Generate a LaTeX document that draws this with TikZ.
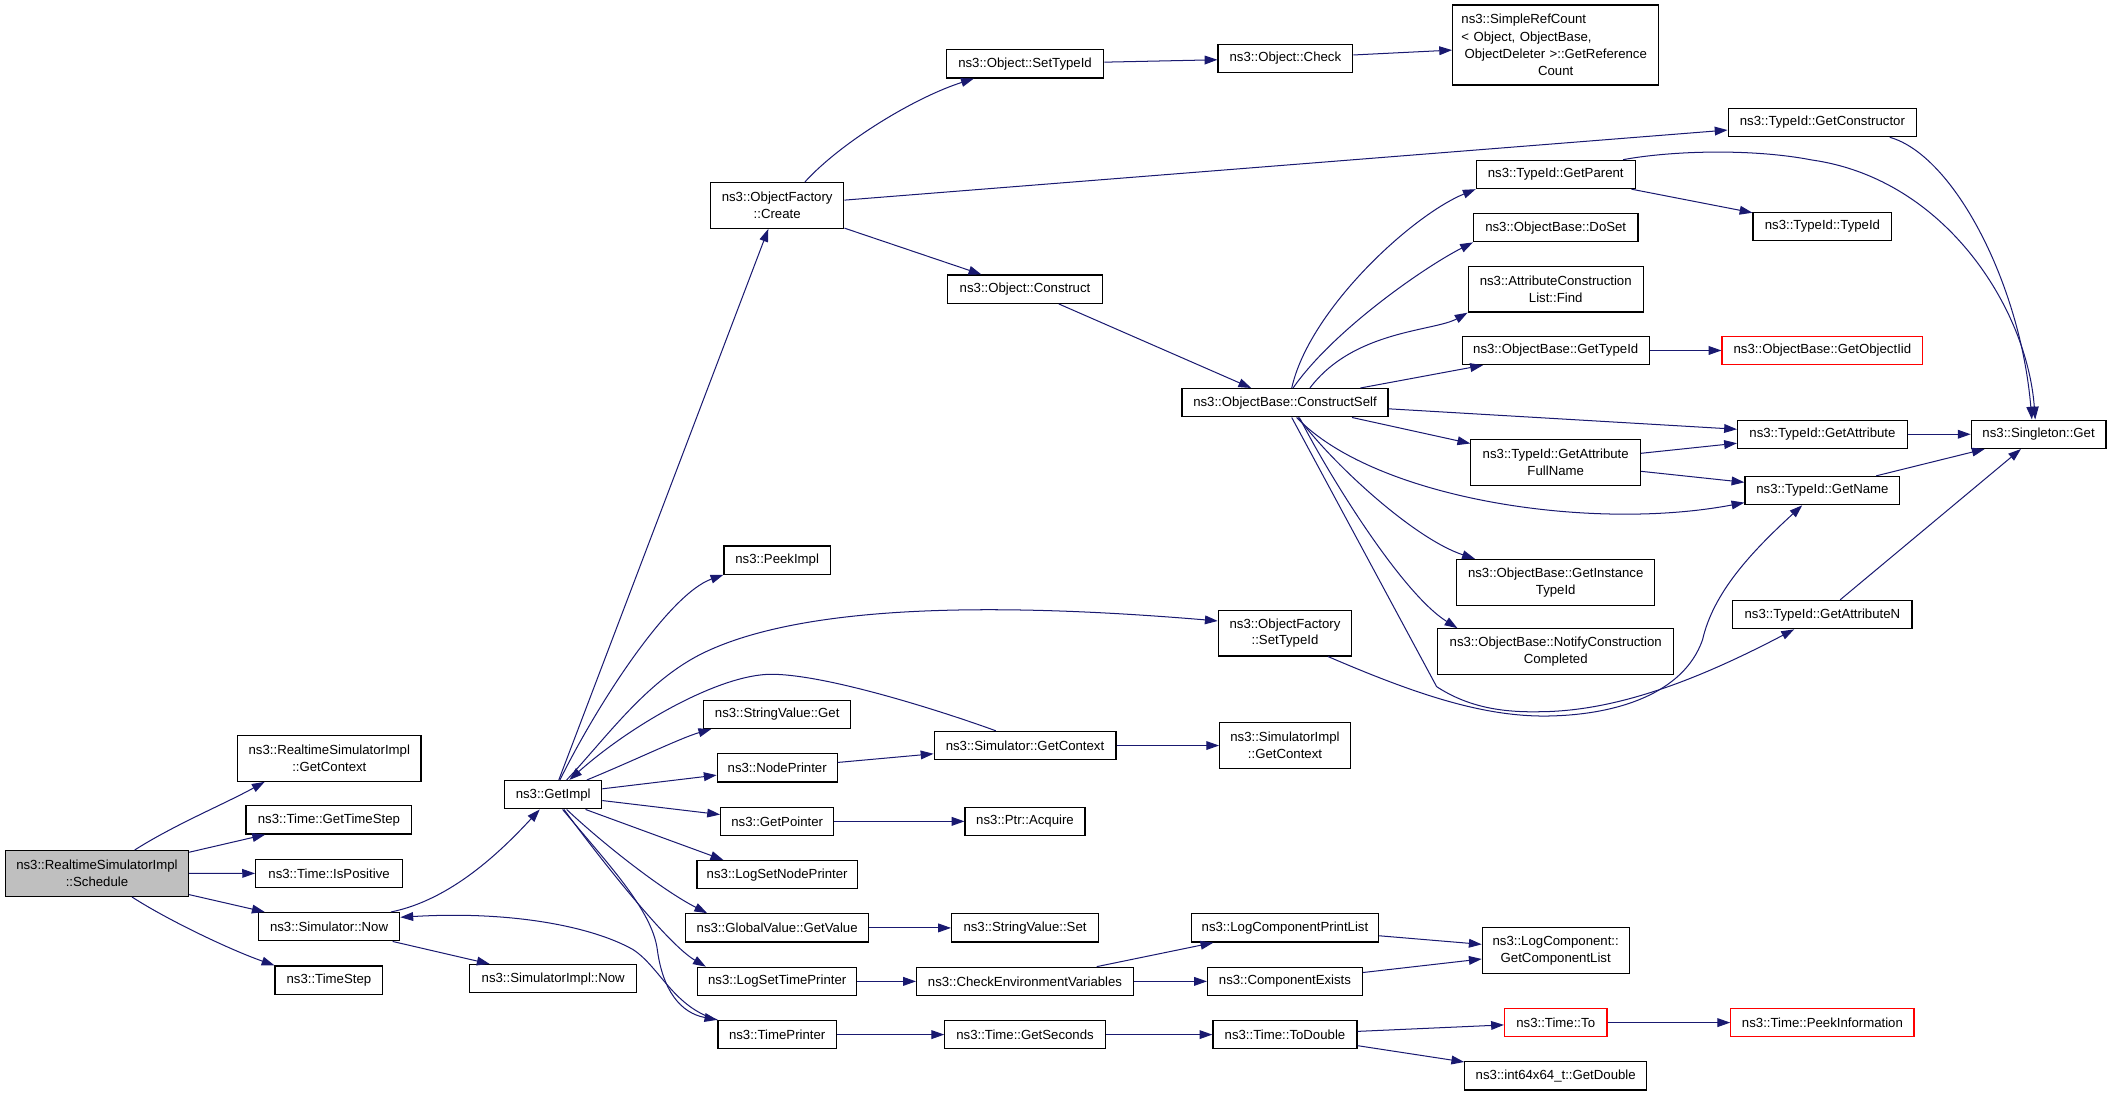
\documentclass[tikz,border=0pt]{standalone}
\usepackage{fontspec}
\setmainfont{Liberation Sans}
\usetikzlibrary{arrows.meta}
\definecolor{edgeblue}{HTML}{191970}
\definecolor{schedgray}{HTML}{BFBFBF}
\newcommand\nf{\fontsize{9.8pt}{12.4pt}\selectfont}
\newcommand\nfb{\fontsize{9.8pt}{12.8pt}\selectfont}
\tikzset{
  nd/.style={draw=black, line width=0.9pt, fill=white, inner sep=1pt, minimum height=21pt, align=center, font=\nf},
  nd2/.style={nd, minimum height=34pt},
  rednd/.style={nd, draw=red},
  e/.style={draw=edgeblue, line width=0.75pt, -{Triangle[length=9.5pt,width=6.5pt]}},
}
\begin{document}
\begin{tikzpicture}[x=1pt,y=-1pt]
\useasboundingbox (0,0) rectangle (1568,814);
% column 1
\node[nd2, fill=schedgray, minimum width=136pt] (sched) at (72,648.5) {ns3::RealtimeSimulatorImpl\\::Schedule};
% column 2
\node[nd2, minimum width=136pt] (rgc) at (244.5,563) {ns3::RealtimeSimulatorImpl\\::GetContext};
\node[nd, minimum width=123pt] (gts) at (244.2,608.7) {ns3::Time::GetTimeStep};
\node[nd, minimum width=109pt] (ipos) at (244.3,648.4) {ns3::Time::IsPositive};
\node[nd, minimum width=105pt] (snow) at (244.3,688) {ns3::Simulator::Now};
\node[nd, minimum width=80pt] (tstep) at (244.2,727.6) {ns3::TimeStep};
% column 3
\node[nd, minimum width=72pt] (gimpl) at (410.7,590) {ns3::GetImpl};
\node[nd, minimum width=124pt] (sinow) at (410.7,726.6) {ns3::SimulatorImpl::Now};
% column 4
\node[nd2, minimum width=99pt] (ofc) at (577,152.5) {ns3::ObjectFactory\\::Create};
\node[nd, minimum width=79pt] (peek) at (577,415.8) {ns3::PeekImpl};
\node[nd, minimum width=109pt] (svget) at (577,530.3) {ns3::StringValue::Get};
\node[nd, minimum width=89pt] (nodep) at (577,570.1) {ns3::NodePrinter};
\node[nd, minimum width=84pt] (getp) at (577,609.8) {ns3::GetPointer};
\node[nd, minimum width=119pt] (lsnp) at (577,649.4) {ns3::LogSetNodePrinter};
\node[nd, minimum width=136pt] (gvgv) at (577,688.9) {ns3::GlobalValue::GetValue};
\node[nd, minimum width=118pt] (lstp) at (577,728.6) {ns3::LogSetTimePrinter};
\node[nd, minimum width=88pt] (timep) at (577,768.1) {ns3::TimePrinter};
% column 5
\node[nd, minimum width=117pt] (osti) at (761,47.4) {ns3::Object::SetTypeId};
\node[nd, minimum width=115pt] (ocon) at (761,214.7) {ns3::Object::Construct};
\node[nd, minimum width=135pt] (sgc) at (761,553.5) {ns3::Simulator::GetContext};
\node[nd, minimum width=89pt] (pacq) at (761,609.8) {ns3::Ptr::Acquire};
\node[nd, minimum width=109pt] (svset) at (761,688.9) {ns3::StringValue::Set};
\node[nd, minimum width=161pt] (cev) at (761,728.6) {ns3::CheckEnvironmentVariables};
\node[nd, minimum width=119pt] (gsec) at (761,768.1) {ns3::Time::GetSeconds};
% column 6
\node[nd, minimum width=100pt] (ochk) at (954.3,43.3) {ns3::Object::Check};
\node[nd, minimum width=153pt] (cself) at (954,299) {ns3::ObjectBase::ConstructSelf};
\node[nd2, minimum width=99pt] (ofst) at (954,470) {ns3::ObjectFactory\\::SetTypeId};
\node[nd2, minimum width=97pt] (sigc) at (954,553.5) {ns3::SimulatorImpl\\::GetContext};
\node[nd, minimum width=139pt] (lcpl) at (954,688.9) {ns3::LogComponentPrintList};
\node[nd, minimum width=115pt] (cex) at (954,728.6) {ns3::ComponentExists};
\node[nd, minimum width=107pt] (todbl) at (954,768.1) {ns3::Time::ToDouble};
% column 7
\node[nd, font=\nfb, minimum width=153pt, minimum height=59.4pt, text width=140pt, align=left, inner sep=0pt] (src) at (1155,33.4) {ns3::SimpleRefCount\\< Object, ObjectBase,\\\makebox[\linewidth]{ObjectDeleter >::GetReference}\\\makebox[\linewidth]{Count}};
\node[nd, minimum width=118pt] (gpar) at (1155,129.5) {ns3::TypeId::GetParent};
\node[nd, minimum width=122pt] (doset) at (1155,169) {ns3::ObjectBase::DoSet};
\node[nd2, minimum width=130pt] (acl) at (1155,214.7) {ns3::AttributeConstruction\\List::Find};
\node[nd, minimum width=139pt] (obgt) at (1155,260.2) {ns3::ObjectBase::GetTypeId};
\node[nd2, minimum width=126pt] (gafn) at (1155,343.2) {ns3::TypeId::GetAttribute\\FullName};
\node[nd2, minimum width=147pt] (gitid) at (1155,432.3) {ns3::ObjectBase::GetInstance\\TypeId};
\node[nd2, minimum width=175pt] (ncc) at (1155,483.8) {ns3::ObjectBase::NotifyConstruction\\Completed};
\node[nd2, minimum width=109pt] (gcl) at (1155,705.7) {ns3::LogComponent::\\GetComponentList};
\node[rednd, minimum width=76pt] (tto) at (1155,759.2) {ns3::Time::To};
\node[nd, minimum width=135pt] (gdbl) at (1155,798.8) {ns3::int64x64\_t::GetDouble};
% column 8
\node[nd, minimum width=140pt] (gctor) at (1353,91) {ns3::TypeId::GetConstructor};
\node[nd, minimum width=103pt] (tidc) at (1353,168) {ns3::TypeId::TypeId};
\node[rednd, minimum width=149pt] (goiid) at (1353,260.2) {ns3::ObjectBase::GetObjectIid};
\node[nd, minimum width=126pt] (gattr) at (1353,322.4) {ns3::TypeId::GetAttribute};
\node[nd, minimum width=115pt] (gname) at (1353,364.2) {ns3::TypeId::GetName};
\node[nd, minimum width=133pt] (gan) at (1353,456.3) {ns3::TypeId::GetAttributeN};
\node[rednd, minimum width=136pt] (peekinf) at (1353,759.2) {ns3::Time::PeekInformation};
% column 9
\node[nd, minimum width=100pt] (sget) at (1513.5,322.4) {ns3::Singleton::Get};

% edges from Schedule
\draw[e] ([xshift=28pt]sched.north) .. controls (130,612) and (166.5,597) .. ([xshift=-48pt]rgc.south);
\draw[e] (sched) -- (gts);
\draw[e] (sched) -- (ipos);
\draw[e] (sched) -- (snow);
\draw[e] ([xshift=26pt]sched.south) .. controls (126,684) and (173,706) .. (tstep.north west);
% Simulator::Now
\draw[e] ([xshift=46pt]snow.north) .. controls (335,668) and (372,632) .. ([xshift=-10pt]gimpl.south);
\draw[e] (snow) -- (sinow);
% GetImpl
\draw[e] (gimpl) -- (ofc);
\draw[e] ([xshift=5pt]gimpl.north) .. controls (445,520) and (497,441) .. (peek.south west);
\draw[e] ([xshift=10pt]gimpl.north) .. controls (450,548) and (480,505) .. (522.7,484.5) .. controls (580,457) and (690,443) .. ([yshift=9pt]ofst.west);
\draw[e] ([xshift=-21.7pt]sgc.north) .. controls (705,530) and (615,500.6) .. (572.6,500.6) .. controls (535,500.6) and (470,537) .. ([xshift=12pt]gimpl.north);
\draw[e] ([xshift=25pt]gimpl.north) .. controls (470,565) and (505,548) .. ([xshift=6pt]svget.south west);
\draw[e] (gimpl) -- (nodep);
\draw[e] (gimpl) -- (getp);
\draw[e] ([xshift=24pt]gimpl.south) -- ([xshift=-40pt]lsnp.north);
\draw[e] ([xshift=10pt]gimpl.south) .. controls (445,624) and (490,660) .. ([xshift=-52pt]gvgv.north);
\draw[e] ([xshift=8pt]gimpl.south) .. controls (440,630) and (494,700) .. ([xshift=-53pt]lstp.north);
\draw[e] ([xshift=7pt]gimpl.south) .. controls (450,640) and (484,675) .. (488,705) .. controls (492,735) and (505,752) .. (timep.north west);
\draw[e] (timep.north west) .. controls (500,748) and (490,718) .. (470,705) .. controls (440,688) and (380,676) .. ([yshift=7pt]snow.east);
% ObjectFactory::Create
\draw[e] ([xshift=20.6pt]ofc.north) .. controls (625,105) and (680,72) .. ([xshift=-38pt]osti.south);
\draw[e] (ofc) -- (gctor);
\draw[e] (ofc) -- (ocon);
\draw[e] (osti) -- (ochk);
\draw[e] (ochk) -- (src);
\draw[e] (ocon) -- (cself);
% ConstructSelf
\draw[e] ([xshift=5pt]cself.north) .. controls (972,230) and (1048,160) .. (gpar.south west);
\draw[e] ([xshift=6pt]cself.north) .. controls (990,245) and (1058,198) .. (doset.south west);
\draw[e] ([xshift=18.5pt]cself.north) .. controls (1005,245) and (1065,246) .. (acl.south west);
\draw[e] ([xshift=56pt]cself.north) -- ([xshift=-54pt]obgt.south);
\draw[e] (cself) -- (gattr);
\draw[e] (cself) -- (gafn);
\draw[e] ([xshift=8.6pt]cself.south) .. controls (1020,370) and (1180,395) .. ([yshift=2pt]gname.south west);
\draw[e] ([xshift=9.8pt]cself.south) .. controls (990,345) and (1050,400) .. ([xshift=-60pt]gitid.north);
\draw[e] ([xshift=10.7pt]cself.south) .. controls (985,350) and (1040,440) .. ([xshift=-73pt]ncc.north);
\draw[e] ([xshift=5pt]cself.south) -- (1066.6,509.8) .. controls (1090,525) and (1115,529) .. (1143.3,528.4) .. controls (1200,528) and (1260,505) .. ([xshift=-21pt]gan.south);
\draw[e] ([xshift=32pt]ofst.south) .. controls (1050,515) and (1100,532) .. (1148,531.6) .. controls (1200,531) and (1250,515) .. (1264,475) .. controls (1272,440) and (1300,410) .. ([xshift=-15pt]gname.south);
% TypeId
\draw[e] (gpar) -- (tidc);
\draw[e] ([xshift=50pt]gpar.north) .. controls (1240,112) and (1300,110) .. (1345.3,118.8) .. controls (1445,133) and (1505,230) .. ([xshift=-2.5pt]sget.north);
\draw[e] ([xshift=50pt]gctor.south) .. controls (1450,115) and (1500,210) .. ([xshift=-5pt]sget.north);
\draw[e] (obgt) -- (goiid);
\draw[e] (gafn) -- (gattr);
\draw[e] (gafn) -- (gname);
\draw[e] (gattr) -- (sget);
\draw[e] ([xshift=40pt]gname.north) -- ([xshift=-40pt]sget.south);
\draw[e] (gan) -- (sget);
% lower part
\draw[e] (nodep) -- (sgc);
\draw[e] (sgc) -- (sigc);
\draw[e] (getp) -- (pacq);
\draw[e] (gvgv) -- (svset);
\draw[e] (lstp) -- (cev);
\draw[e] (cev) -- (lcpl);
\draw[e] (cev) -- (cex);
\draw[e] (lcpl) -- (gcl);
\draw[e] (cex) -- (gcl);
\draw[e] (timep) -- (gsec);
\draw[e] (gsec) -- (todbl);
\draw[e] (todbl) -- (tto);
\draw[e] (todbl) -- (gdbl);
\draw[e] (tto) -- (peekinf);
\end{tikzpicture}
\end{document}
